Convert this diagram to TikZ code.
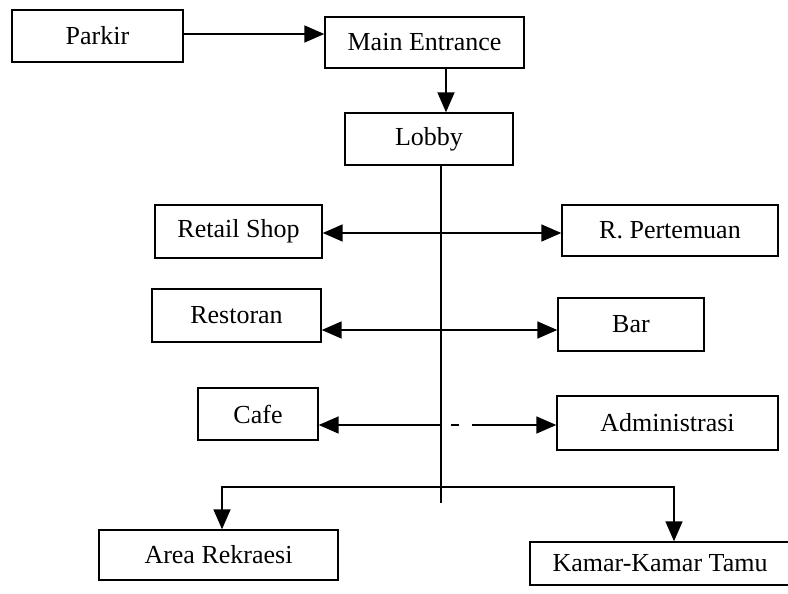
\documentclass[tikz,border=0pt]{standalone}
\usepackage{fontspec}
\setmainfont{Liberation Serif}
\usetikzlibrary{arrows.meta}
\begin{document}
\begin{tikzpicture}[x=1pt,y=-1pt,
  box/.style={draw, line width=1.4pt, inner sep=0pt, font=\fontsize{26}{30}\selectfont},
  link/.style={line width=1.6pt},
  tip/.tip={Triangle[length=20pt,width=17pt]},
  arr/.style={link, -tip},
  arrtwo/.style={link, tip-tip}]
\useasboundingbox (0,0) rectangle (788,594);

% rooms
\node[box, minimum width=171pt, minimum height=52pt] (parkir) at (97.5,36) {Parkir};
\node[box, minimum width=199pt, minimum height=51pt] (main) at (424.5,42.5) {Main Entrance};
\node[box, minimum width=168pt, minimum height=52pt] (lobby) at (429,139) {Lobby};
\node[box, minimum width=167pt, minimum height=53pt] (retail) at (238.5,231.5) {Retail Shop};
\node[box, minimum width=216pt, minimum height=51pt] (rapat) at (670,230.5) {R. Pertemuan};
\node[box, minimum width=169pt, minimum height=53pt] (resto) at (236.5,315.5) {Restoran};
\node[box, minimum width=146pt, minimum height=53pt] (bar) at (631,324.5) {Bar};
\node[box, minimum width=120pt, minimum height=52pt] (cafe) at (258,414) {Cafe};
\node[box, minimum width=221pt, minimum height=54pt] (admin) at (667.5,423) {Administrasi};
\node[box, minimum width=239pt, minimum height=50pt] (rekreasi) at (218.5,555) {Area Rekraesi};
\node[box, minimum width=260pt, minimum height=43pt] (kamar) at (660,563.5) {Kamar-Kamar Tamu};

% circulation spine
\coordinate (spine) at (441,0);
\coordinate (spineend) at (441,503);
\coordinate (split) at (441,487);
\coordinate (cafejoin) at (441,425);

\draw[arr] (parkir.east |- 0,34) -- (main.west |- 0,34);
\draw[arr] (main.south -| 446,0) -- (lobby.north -| 446,0);
\draw[link] (lobby.south -| spine) -- (spineend);

\draw[arrtwo] (retail.east |- 0,233) -- (rapat.west |- 0,233);
\draw[arrtwo] (resto.east |- 0,330) -- (bar.west |- 0,330);

\draw[arr] (cafejoin) -- (cafejoin -| cafe.east);
\draw[arr, dash pattern=on 0pt off 10pt on 8pt off 13pt on 300pt] (cafejoin) -- (cafejoin -| admin.west);

\draw[arr] (split) -| (rekreasi.north -| 222,0);
\draw[arr] (split) -| (kamar.north -| 674,0);
\end{tikzpicture}
\end{document}
